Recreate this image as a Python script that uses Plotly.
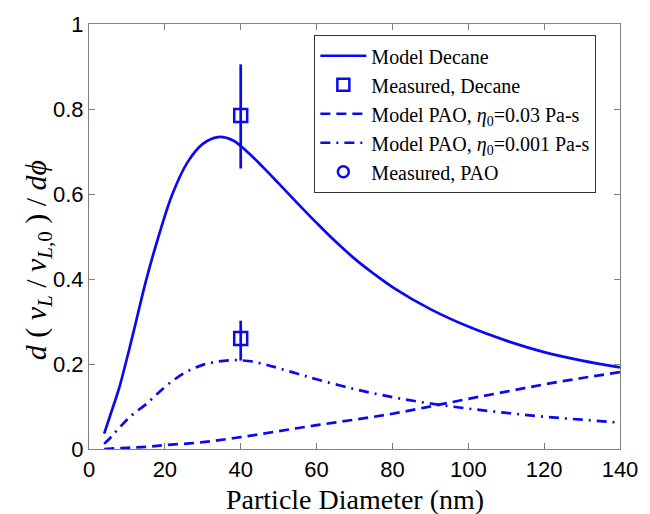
import plotly.graph_objects as go

# Particle diameter grid (nm) for the model curves
diam_decane = [4, 6, 8, 10, 12, 15, 18, 22, 26, 30, 34, 38, 42, 46, 50, 55, 60,
               65, 70, 75, 80, 90, 100, 110, 120, 130, 140]
model_decane = [0.036, 0.09, 0.145, 0.213, 0.285, 0.395, 0.49, 0.60, 0.675, 0.718,
                0.734, 0.726, 0.697, 0.662, 0.625, 0.578, 0.532, 0.488, 0.448,
                0.413, 0.381, 0.329, 0.288, 0.255, 0.228, 0.208, 0.192]

diam_pao = [4, 10, 15, 20, 30, 40, 50, 60, 70, 80, 90, 100, 110, 120, 130, 140]
model_pao_003 = [0.0, 0.003, 0.005, 0.009, 0.016, 0.028, 0.042, 0.056, 0.069,
                 0.083, 0.1, 0.118, 0.135, 0.152, 0.167, 0.181]

diam_pao2 = [4, 6, 8, 10, 12, 15, 18, 22, 26, 30, 34, 38, 42, 46, 50, 55, 60,
             70, 80, 90, 100, 110, 120, 130, 140]
model_pao_0001 = [0.012, 0.03, 0.05, 0.069, 0.085, 0.105, 0.13, 0.16, 0.183, 0.198,
                  0.206, 0.209, 0.207, 0.2, 0.19, 0.177, 0.164, 0.141, 0.122,
                  0.107, 0.095, 0.085, 0.076, 0.069, 0.062]

# Measurements with upper / lower error extents
meas_decane_x = [40]
meas_decane_y = [0.785]
meas_decane_hi = [0.905]
meas_decane_lo = [0.66]

meas_pao_x = [40]
meas_pao_y = [0.26]
meas_pao_hi = [0.302]
meas_pao_lo = [0.208]

BLUE = "#0a0aef"
SERIF = "Liberation Serif"
SANS = "Liberation Sans"
LW = 2.7

fig = go.Figure()

fig.add_trace(go.Scatter(
    x=diam_decane, y=model_decane, mode="lines", name="Model Decane",
    line=dict(color=BLUE, width=LW, shape="spline", smoothing=1.0)))

# legend-only entry for the decane measurement (no error bar in the key)
fig.add_trace(go.Scatter(
    x=[None], y=[None], mode="markers", name="Measured, Decane",
    marker=dict(symbol="square-open", size=12, color=BLUE, line=dict(width=2.5))))

fig.add_trace(go.Scatter(
    x=diam_pao, y=model_pao_003, mode="lines",
    name="Model PAO, <i>η</i><sub>0</sub>=0.03 Pa-s",
    line=dict(color=BLUE, width=LW, dash="10px,6px", shape="spline", smoothing=1.0)))

fig.add_trace(go.Scatter(
    x=diam_pao2, y=model_pao_0001, mode="lines",
    name="Model PAO, <i>η</i><sub>0</sub>=0.001 Pa-s",
    line=dict(color=BLUE, width=LW, dash="10px,6px,2px,6px", shape="spline", smoothing=1.0)))

fig.add_trace(go.Scatter(
    x=[None], y=[None], mode="markers", name="Measured, PAO",
    marker=dict(symbol="circle-open", size=11, color=BLUE, line=dict(width=2.5))))

# measured points with error bars
for mx, my, hi, lo in [(meas_decane_x, meas_decane_y, meas_decane_hi, meas_decane_lo),
                       (meas_pao_x, meas_pao_y, meas_pao_hi, meas_pao_lo)]:
    fig.add_trace(go.Scatter(
        x=mx, y=my, mode="markers", showlegend=False,
        marker=dict(symbol="square-open", size=13, color=BLUE, line=dict(width=2.5)),
        error_y=dict(type="data", symmetric=False,
                     array=[h - v for h, v in zip(hi, my)],
                     arrayminus=[v - l for l, v in zip(lo, my)],
                     color=BLUE, thickness=2.7, width=0)))

axis_common = dict(
    showgrid=False, zeroline=False, showline=True, linecolor="#808080", linewidth=1.2,
    mirror="ticks", ticks="inside", ticklen=6, tickcolor="#808080",
    tickfont=dict(family=SANS, size=22, color="black"))

fig.update_layout(
    width=650, height=514,
    margin=dict(l=89, r=20, t=23, b=65),
    paper_bgcolor="white", plot_bgcolor="white",
    xaxis=dict(range=[0, 140], dtick=20, **axis_common),
    yaxis=dict(range=[0, 1], dtick=0.2, **axis_common),
    legend=dict(
        x=0.424, y=0.974, xanchor="left", yanchor="top",
        bgcolor="white", bordercolor="#333333", borderwidth=1.2,
        font=dict(family=SERIF, size=20, color="black"),
        itemwidth=46, tracegroupgap=0),
    showlegend=True,
)

fig.add_annotation(
    text="Particle Diameter (nm)", xref="paper", yref="paper",
    x=0.5, y=-0.118, xanchor="center", yanchor="middle", showarrow=False,
    font=dict(family=SERIF, size=28, color="black"))

fig.add_annotation(
    text=("<i>d</i> ( <i>ν</i><sub><i>L</i></sub> / <i>ν</i><sub><i>L</i>,0</sub> )"
          " / <i>dϕ</i>"),
    xref="paper", yref="paper", x=-0.097, y=0.445, textangle=-90,
    xanchor="center", yanchor="middle", showarrow=False,
    font=dict(family=SERIF, size=30, color="black"))

fig.write_html("out.html")
